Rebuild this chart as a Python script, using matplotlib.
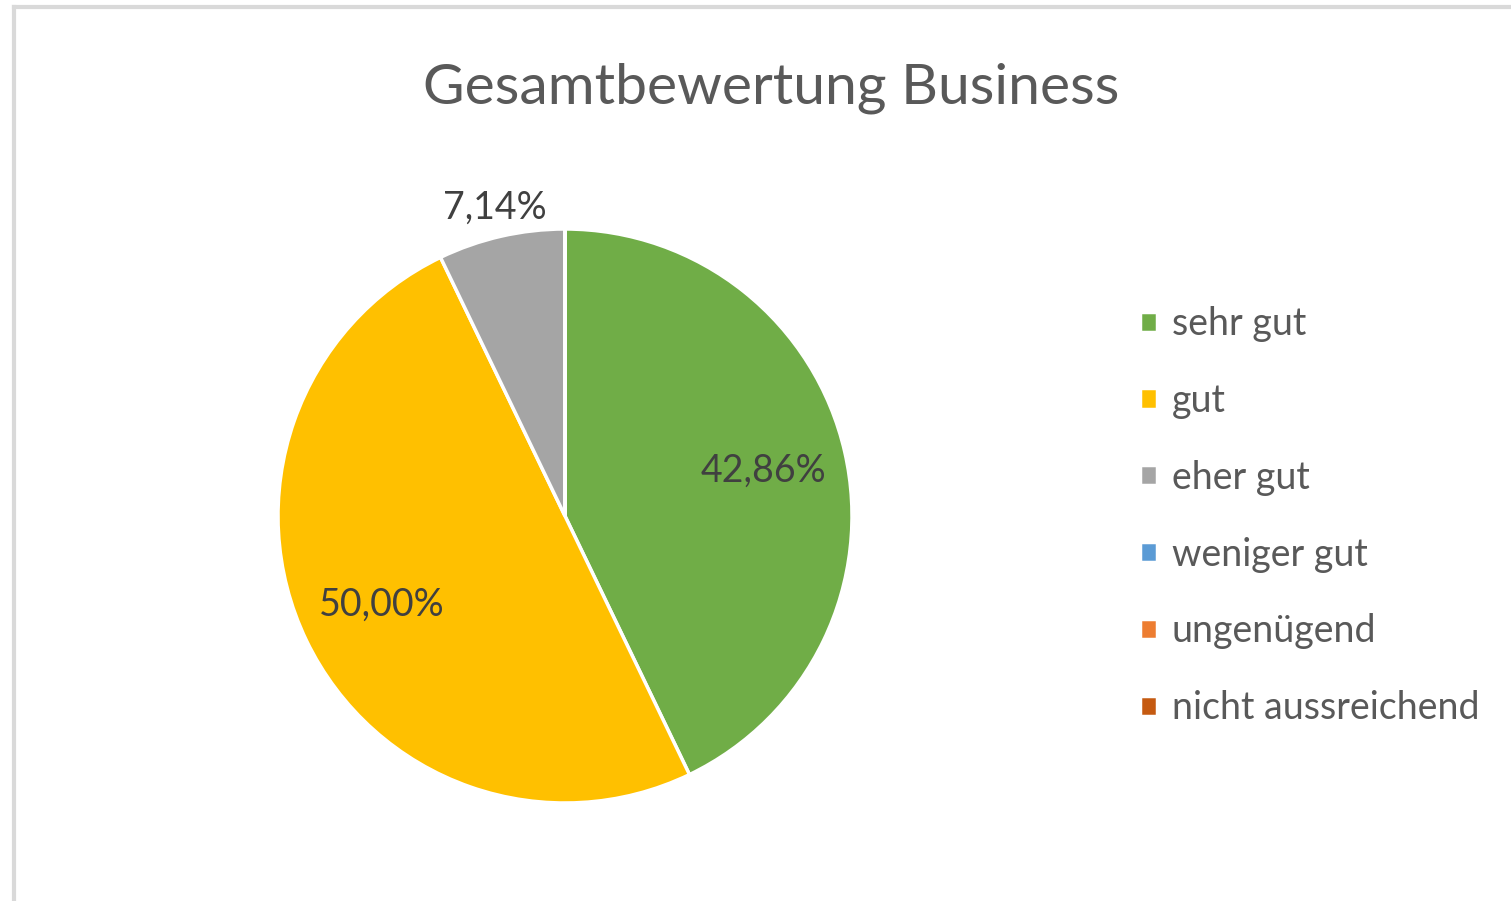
import matplotlib.pyplot as plt
import numpy as np
from matplotlib.lines import Line2D

# data
categories = ['sehr gut', 'gut', 'eher gut', 'weniger gut', 'ungenügend', 'nicht aussreichend']
shares = [42.86, 50.00, 7.14, 0.0, 0.0, 0.0]
colors = ['#70AD47', '#FFC000', '#A5A5A5', '#5B9BD5', '#ED7D31', '#C55A11']
title = 'Gesamtbewertung Business'

plt.rcParams['font.family'] = ['Lato', 'DejaVu Sans']

W, H = 1511, 901
fig = plt.figure(figsize=(W / 100, H / 100), dpi=100)

# pie axes: centre (565, 516) px, radius 287 px
cx, cy, r = 565, 516, 287
ax = fig.add_axes([(cx - r) / W, (H - cy - r) / H, 2 * r / W, 2 * r / H])

def fmt(p):
    return '' if p < 0.01 else '{:.2f}%'.format(p).replace('.', ',')

wedges, texts, autotexts = ax.pie(
    shares, colors=colors, startangle=90, counterclock=False,
    autopct=fmt, pctdistance=0.71, radius=1.0,
    wedgeprops=dict(edgecolor='white', linewidth=2.5),
    textprops=dict(color='#404040', fontsize=27))
ax.set_xlim(-1, 1)
ax.set_ylim(-1, 1)
ax.set_aspect('equal')

# small slice label sits outside the pie
for w, t, v in zip(wedges, autotexts, shares):
    if 0 < v < 10:
        ang = np.deg2rad((w.theta1 + w.theta2) / 2)
        t.set_position((1.1 * np.cos(ang), 1.1 * np.sin(ang)))

fig.text(771 / W, 1 - 88 / H, title, ha='center', va='center',
         fontsize=41, color='#595959')

leg = fig.legend(wedges, categories, loc='upper left',
                 bbox_to_anchor=(1140 / W, 1 - 306 / H), frameon=False,
                 fontsize=27, handlelength=0.45, handleheight=0.45,
                 handletextpad=0.4, labelspacing=1.09, borderpad=0,
                 borderaxespad=0)
for t in leg.get_texts():
    t.set_color('#595959')

# chart border (only top and left edges visible)
fig.add_artist(Line2D([14 / W, 14 / W], [0, 1 - 7 / H], color='#d9d9d9', lw=3))
fig.add_artist(Line2D([14 / W, 1], [1 - 7 / H, 1 - 7 / H], color='#d9d9d9', lw=3))

fig.savefig('out.png', dpi=100, facecolor='white')
